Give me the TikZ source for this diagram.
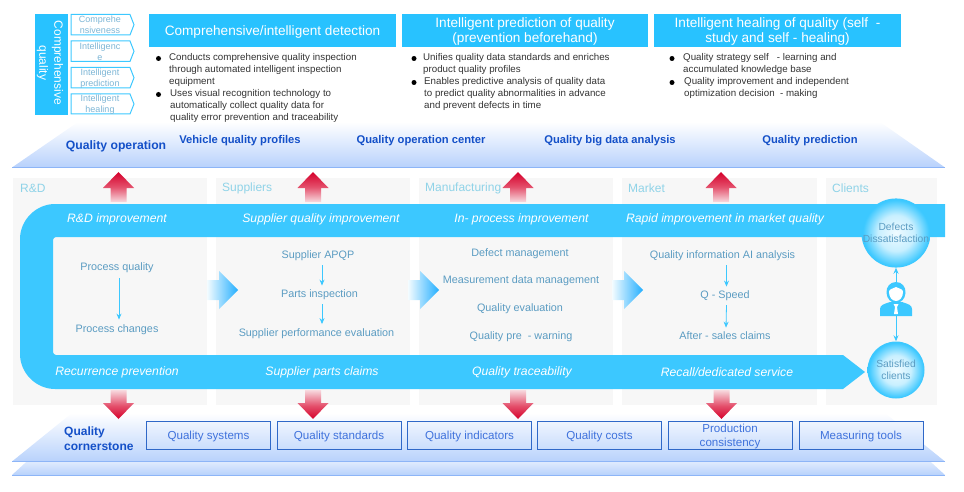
\documentclass[tikz,border=0pt]{standalone}
\usepackage{fontspec}
\setmainfont{Liberation Sans}
\usetikzlibrary{arrows.meta}
\newcommand{\lowr}[1]{\raisebox{-1.2pt}[\height][\depth]{#1}}
\definecolor{cyanhead}{HTML}{28C2FF}
\definecolor{cyanband}{HTML}{3CC8FF}
\definecolor{panel}{HTML}{F7F7F7}
\definecolor{collabel}{HTML}{8FD3E8}
\definecolor{inner}{HTML}{5B9CC2}
\definecolor{deep}{HTML}{1450C8}
\definecolor{plate}{HTML}{B8D2FC}
\definecolor{plateline}{HTML}{8DB5F7}
\definecolor{boxline}{HTML}{2F68C8}
\definecolor{boxtext}{HTML}{3F72DC}
\definecolor{tagtext}{HTML}{7DB6D6}
\definecolor{redtip}{HTML}{D5002B}
\definecolor{redmid}{HTML}{E4506C}
\definecolor{redpale}{HTML}{F7DADF}
\pgfdeclareverticalshading{redup}{100bp}{color(0bp)=(redpale);color(25bp)=(redpale);color(50bp)=(redmid);color(75bp)=(redtip);color(100bp)=(redtip)}
\pgfdeclareverticalshading{reddown}{100bp}{color(0bp)=(redtip);color(25bp)=(redtip);color(48bp)=(redmid);color(75bp)=(redpale);color(100bp)=(redpale)}
\pgfdeclareverticalshading{plateback}{100bp}{color(0bp)=(plate);color(25bp)=(plate);color(37bp)=(plate!45!white);color(75bp)=(white);color(100bp)=(white)}
\pgfdeclareradialshading{orb}{\pgfpoint{0bp}{0bp}}{color(0bp)=(cyanband!8!white);color(13bp)=(cyanband!28!white);color(24bp)=(cyanband);color(50bp)=(cyanband)}
\tikzset{
  headbox/.style={fill=cyanhead,draw=none,inner sep=0pt,text=white,align=center,font=\fontsize{13.6}{15}\selectfont},
  tagbox/.style={draw=cyanband,line width=1pt,fill=white},
  tagword/.style={inner sep=0pt,yshift=-.5pt,text=tagtext,align=center,font=\fontsize{9}{11}\selectfont},
  para/.style={inner sep=0pt,anchor=north west,align=left,text=black!80,font=\fontsize{9.75}{12}\selectfont},
  dotmark/.style={circle,fill=black,inner sep=0pt,minimum size=5pt},
  platelabel/.style={inner sep=0pt,yshift=-1.5pt,text=deep,font=\bfseries\fontsize{11.2}{14}\selectfont},
  collab/.style={inner sep=0pt,anchor=west,text=collabel,font=\fontsize{12}{13}\selectfont},
  bandlab/.style={inner sep=0pt,yshift=-1.6pt,text=white,font=\itshape\fontsize{12.2}{13}\selectfont},
  innerlab/.style={inner sep=0pt,yshift=-1.8pt,text=inner,align=center,font=\fontsize{10.8}{12}\selectfont},
  flow/.style={draw=cyanband,line width=.8pt,-{Stealth[length=6pt,width=5pt,inset=2pt]}},
  ball/.style={circle,inner sep=0pt,minimum size=57pt,shading=orb,align=center,text=inner,font=\fontsize{10.3}{12.5}\selectfont},
  basebox/.style={draw=boxline,line width=1pt,minimum width=124pt,minimum height=28pt,inner sep=0pt,top color=plate!22!white,bottom color=plate!75!white,text=boxtext,align=center,font=\fontsize{11.6}{14}\selectfont},
}
\begin{document}
\begin{tikzpicture}[x=1pt,y=-1pt]
\useasboundingbox (0,0) rectangle (964,492);
% header left block
\node[fill=cyanhead,minimum width=33pt,minimum height=101pt,inner sep=0pt] (quality) at (51.5,64.5) {};
\node[rotate=-90,inner sep=0pt,text=white,align=center,font=\fontsize{12}{15}\selectfont] (qualityword) at (50,63) {Comprehensive\\quality};
\foreach \nm/\ya/\yb/\la/\lb in {ta/14.5/35/Comprehe/nsiveness,tb/41/61.5/Intelligenc/e,tc/67.5/88/Intelligent/prediction,td/94/114/Intelligent/healing}{
  \draw[tagbox] (71,\ya) -- (130,\ya) -- (134,{(\ya+\yb)/2}) -- (130,\yb) -- (71,\yb) -- cycle;
  \node[tagword] (\nm) at (100,{(\ya+\yb)/2}) {\la\\\lb};
}
% headers
\node[headbox,minimum width=247pt,minimum height=33pt] (h1) at (272.5,30.5) {\lowr{Comprehensive/intelligent detection}};
\node[headbox,minimum width=246pt,minimum height=33pt] (h2) at (525,30.5) {\lowr{Intelligent prediction of quality}\\\lowr{(prevention beforehand)}};
\node[headbox,minimum width=247pt,minimum height=33pt] (h3) at (777.5,30.5) {\lowr{Intelligent healing of quality (self~~-}\\\lowr{study and self - healing)}};
% bullets
\node[dotmark] (b1) at (158.5,58.5) {};
\node[para] (p1) at (169,53) {Conducts comprehensive quality inspection\\through automated intelligent inspection\\equipment};
\node[dotmark] (b2) at (158.5,94.5) {};
\node[para] (p2) at (170,89) {Uses visual recognition technology to\\automatically collect quality data for\\quality error prevention and traceability};
\node[dotmark] (b3) at (414,58.5) {};
\node[para] (p3) at (423,53) {Unifies quality data standards and enriches\\product quality profiles};
\node[dotmark] (b4) at (414,82.5) {};
\node[para] (p4) at (424,77) {Enables predictive analysis of quality data\\to predict quality abnormalities in advance\\and prevent defects in time};
\node[dotmark] (b5) at (672,58.5) {};
\node[para] (p5) at (683,53) {Quality strategy self~~~- learning and\\accumulated knowledge base};
\node[dotmark] (b6) at (672,82.5) {};
\node[para] (p6) at (684,77) {Quality improvement and independent\\optimization decision~~- making};
% upper plate
\path[top color=white,bottom color=plate] (78,122) -- (880,122) -- (945,167.5) -- (12,167.5) -- cycle;
\draw[plateline,line width=.6pt] (12,167.5) -- (945,167.5);
\node[platelabel,font=\bfseries\fontsize{12.2}{14}\selectfont] (oper) at (116,145) {Quality operation};
\node[platelabel] (op1) at (240,139) {Vehicle quality profiles};
\node[platelabel] (op2) at (421,139) {Quality operation center};
\node[platelabel] (op3) at (610,139) {Quality big data analysis};
\node[platelabel] (op4) at (810,139) {Quality prediction};
% columns
\foreach \xa/\xb in {13/207,216/410,419/613,622/817,826/937}
  \fill[panel] (\xa,178) rectangle (\xb,405);
\node[collab] (c1) at (20,188) {R\&D};
\node[collab] (c2) at (222,188) {Suppliers};
\node[collab] (c3) at (425,188) {Manufacturing};
\node[collab] (c4) at (628,188) {Market};
\node[collab] (c5) at (832,188) {Clients};
% red up arrows
\foreach \cx in {118.5,313,518,721}{
  \path[shading=redup] (\cx,172) -- (\cx+15.5,188) -- (\cx+8,188) -- (\cx+8,202) -- (\cx-8,202) -- (\cx-8,188) -- (\cx-15.5,188) -- cycle;
}
% band
\fill[cyanband] (945,204) -- (55,204) .. controls (36,204) and (20,220) .. (20,239) -- (20,354) .. controls (20,373) and (36,389) .. (55,389) -- (843,389) -- (865,372) -- (843,355) -- (56,355) .. controls (54.5,355) and (53,353.5) .. (53,352) -- (53,240) .. controls (53,238.5) and (54.5,237) .. (56,237) -- (945,237) -- cycle;
\node[bandlab] (u1) at (117,218) {R\&D improvement};
\node[bandlab] (u2) at (321,218) {Supplier quality improvement};
\node[bandlab] (u3) at (521.5,218) {In- process improvement};
\node[bandlab] (u4) at (725,218) {Rapid improvement in market quality};
\node[bandlab] (l1) at (117,371) {Recurrence prevention};
\node[bandlab] (l2) at (322,371) {Supplier parts claims};
\node[bandlab] (l3) at (522,371) {Quality traceability};
\node[bandlab] (l4) at (727,371) {Recall/dedicated service};
% blue block arrows
\foreach \xa in {207,408,612}{
  \path[left color=cyanband!6!white,right color=cyanhead!90!blue] (\xa,280) -- (\xa+12,280) -- (\xa+12,271) -- (\xa+31,290) -- (\xa+12,309) -- (\xa+12,300) -- (\xa,300) -- cycle;
}
% R&D
\node[innerlab] (r1) at (117,266) {Process quality};
\node[innerlab] (r2) at (117,328) {Process changes};
\draw[flow] ([xshift=2pt,yshift=-5pt]r1.south) -- ([xshift=2pt,yshift=5pt]r2.north);
% Suppliers
\node[innerlab] (s1) at (318,254) {Supplier APQP};
\node[innerlab] (s2) at (319.5,293) {Parts inspection};
\node[innerlab] (s3) at (316.5,331.5) {Supplier performance evaluation};
\draw[flow] ([xshift=4pt,yshift=-4pt]s1.south) -- ([xshift=2.5pt,yshift=4pt]s2.north);
\draw[flow] ([xshift=2.5pt,yshift=-4pt]s2.south) -- ([xshift=5.5pt,yshift=4pt]s3.north);
% Manufacturing
\node[innerlab] (m1) at (520,252) {Defect management};
\node[innerlab] (m2) at (521,279) {Measurement data management};
\node[innerlab] (m3) at (520,307) {Quality evaluation};
\node[innerlab] (m4) at (521,335) {Quality pre~~- warning};
% Market
\node[innerlab] (k1) at (722.5,254) {Quality information AI analysis};
\node[innerlab] (k2) at (725,294) {Q - Speed};
\node[innerlab] (k3) at (725,334) {After - sales claims};
\draw[flow] ([xshift=4pt,yshift=-4pt]k1.south) -- ([xshift=1.5pt,yshift=4pt]k2.north);
\draw[flow] ([xshift=1.5pt,yshift=-4pt]k2.south) -- ([xshift=1pt,yshift=4pt]k3.north);
% clients
\node[ball] (defects) at (896,233) {Defects\\Dissatisfaction};
\node[ball] (satisfied) at (896,370) {Satisfied\\clients};
\node[inner sep=0pt,minimum width=32pt,minimum height=34pt] (person) at (896,299) {};
\draw[flow] (person) -- (defects);
\draw[flow] (person) -- (satisfied);
% person icon
\fill[cyanband] (880,316) -- (880,309) .. controls (880,305) and (884,304) .. (890,302) -- (902,302) .. controls (908,304) and (912,305) .. (912,309) -- (912,316) -- cycle;
\fill[cyanband] (896,282) .. controls (902,282) and (906,287) .. (905.5,293) .. controls (905,299) and (901,303) .. (896,303) .. controls (891,303) and (887,299) .. (886.5,293) .. controls (886,287) and (890,282) .. (896,282) -- cycle;
\fill[white] (896,287) .. controls (900,289) and (903,289) .. (903,292) .. controls (903,297) and (900,301) .. (896,301) .. controls (892,301) and (889,297) .. (889,292) .. controls (889,289) and (892,289) .. (896,287) -- cycle;
\fill[white] (893.5,304) -- (898.5,304) -- (897,307) -- (898,314) -- (894,314) -- (895,307) -- cycle;
% lower plates
\path[shading=plateback] (12,475) -- (72,420) -- (885,420) -- (945,475) -- cycle;
\draw[plateline,line width=.5pt] (12,475) -- (945,475);
\path[top color=white,bottom color=plate] (12,461.5) -- (72,413) -- (885,413) -- (945,461.5) -- cycle;
\draw[plateline,line width=.5pt] (12,461.5) -- (945,461.5);
% red down arrows
\foreach \cx in {118.5,313,518,721.5}{
  \path[shading=reddown] (\cx,419) -- (\cx+15.5,403) -- (\cx+8,403) -- (\cx+8,390) -- (\cx-8,390) -- (\cx-8,403) -- (\cx-15.5,403) -- cycle;
}
\node[platelabel,yshift=0pt,anchor=west,align=left,font=\bfseries\fontsize{12}{15}\selectfont] (stone) at (64,437) {Quality\\cornerstone};
\node[basebox] (f1) at (208.5,435) {\lowr{Quality systems}};
\node[basebox] (f2) at (339,435) {\lowr{Quality standards}};
\node[basebox] (f3) at (469.5,435) {\lowr{Quality indicators}};
\node[basebox] (f4) at (599.5,435) {\lowr{Quality costs}};
\node[basebox] (f5) at (730,435) {\lowr{Production}\\\lowr{consistency}};
\node[basebox] (f6) at (861,435) {\lowr{Measuring tools}};
\end{tikzpicture}
\end{document}
